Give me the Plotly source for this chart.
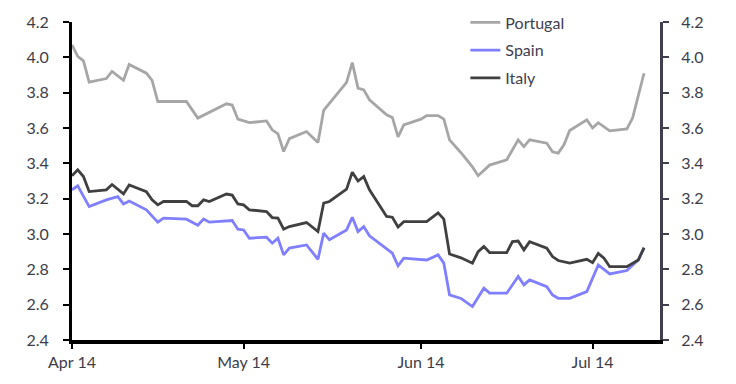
import plotly.graph_objects as go

# Portugal 10y yield (%)
pt_dates = ["2014-04-01","2014-04-02","2014-04-03","2014-04-04","2014-04-07","2014-04-08","2014-04-10","2014-04-11",
            "2014-04-14","2014-04-15","2014-04-16","2014-04-21","2014-04-23","2014-04-28","2014-04-29","2014-04-30",
            "2014-05-02","2014-05-05","2014-05-06","2014-05-07","2014-05-08","2014-05-09","2014-05-12","2014-05-14",
            "2014-05-15","2014-05-16","2014-05-19","2014-05-20","2014-05-21","2014-05-22","2014-05-23","2014-05-26",
            "2014-05-27","2014-05-28","2014-05-29","2014-06-01","2014-06-02","2014-06-04","2014-06-05","2014-06-06",
            "2014-06-08","2014-06-10","2014-06-11","2014-06-13","2014-06-16","2014-06-18","2014-06-19","2014-06-20",
            "2014-06-23","2014-06-24","2014-06-25","2014-06-26","2014-06-27","2014-06-30","2014-07-01","2014-07-02",
            "2014-07-04","2014-07-07","2014-07-08","2014-07-10"]
pt_values = [4.07,4.005,3.98,3.86,3.88,3.92,3.87,3.96,
             3.91,3.87,3.75,3.75,3.656,3.737,3.73,3.65,
             3.63,3.64,3.59,3.567,3.467,3.54,3.58,3.518,
             3.70,3.74,3.858,3.97,3.826,3.816,3.76,3.675,
             3.66,3.55,3.618,3.65,3.67,3.67,3.65,3.533,
             3.46,3.38,3.33,3.39,3.42,3.533,3.495,3.533,
             3.514,3.465,3.458,3.505,3.586,3.646,3.60,3.63,
             3.584,3.595,3.656,3.91]

# Spain 10y yield (%)
es_dates = ["2014-04-01","2014-04-02","2014-04-04","2014-04-07","2014-04-09","2014-04-10","2014-04-11","2014-04-14",
            "2014-04-16","2014-04-17","2014-04-21","2014-04-23","2014-04-24","2014-04-25","2014-04-29","2014-04-30",
            "2014-05-01","2014-05-02","2014-05-05","2014-05-06","2014-05-07","2014-05-08","2014-05-09","2014-05-12",
            "2014-05-14","2014-05-15","2014-05-16","2014-05-19","2014-05-20","2014-05-21","2014-05-22","2014-05-23",
            "2014-05-27","2014-05-28","2014-05-29","2014-06-02","2014-06-04","2014-06-05","2014-06-06","2014-06-08",
            "2014-06-10","2014-06-11","2014-06-12","2014-06-13","2014-06-16","2014-06-18","2014-06-19","2014-06-20",
            "2014-06-23","2014-06-24","2014-06-25","2014-06-27","2014-06-30","2014-07-02","2014-07-04","2014-07-07",
            "2014-07-09","2014-07-10"]
es_values = [3.25,3.273,3.155,3.193,3.212,3.17,3.187,3.137,
             3.067,3.09,3.084,3.05,3.085,3.067,3.076,3.027,
             3.023,2.976,2.982,2.948,2.976,2.882,2.92,2.938,
             2.857,3.005,2.967,3.023,3.095,3.014,3.042,2.99,
             2.891,2.82,2.863,2.853,2.882,2.835,2.655,2.635,
             2.589,2.645,2.693,2.665,2.665,2.759,2.712,2.74,
             2.702,2.655,2.636,2.636,2.674,2.825,2.774,2.793,
             2.853,2.92]

# Italy 10y yield (%)
it_dates = ["2014-04-01","2014-04-02","2014-04-03","2014-04-04","2014-04-07","2014-04-08","2014-04-10","2014-04-11",
            "2014-04-14","2014-04-15","2014-04-16","2014-04-17","2014-04-21","2014-04-22","2014-04-23","2014-04-24",
            "2014-04-25","2014-04-28","2014-04-29","2014-04-30","2014-05-01","2014-05-02","2014-05-05","2014-05-06",
            "2014-05-07","2014-05-08","2014-05-09","2014-05-12","2014-05-14","2014-05-15","2014-05-16","2014-05-19",
            "2014-05-20","2014-05-21","2014-05-22","2014-05-23","2014-05-26","2014-05-27","2014-05-28","2014-05-29",
            "2014-06-02","2014-06-04","2014-06-05","2014-06-06","2014-06-08","2014-06-10","2014-06-11","2014-06-12",
            "2014-06-13","2014-06-16","2014-06-17","2014-06-18","2014-06-19","2014-06-20","2014-06-23","2014-06-24",
            "2014-06-25","2014-06-27","2014-06-30","2014-07-01","2014-07-02","2014-07-03","2014-07-04","2014-07-07",
            "2014-07-09","2014-07-10"]
it_values = [3.33,3.363,3.325,3.24,3.25,3.28,3.227,3.278,
             3.24,3.193,3.165,3.184,3.184,3.16,3.16,3.193,
             3.184,3.226,3.22,3.17,3.165,3.137,3.127,3.093,
             3.09,3.027,3.042,3.065,3.014,3.175,3.184,3.254,
             3.35,3.30,3.325,3.25,3.099,3.095,3.04,3.07,
             3.07,3.12,3.084,2.887,2.865,2.835,2.90,2.93,
             2.895,2.895,2.957,2.96,2.91,2.957,2.92,2.872,
             2.85,2.835,2.857,2.838,2.89,2.863,2.815,2.815,
             2.853,2.923]

y_ticks = [2.4, 2.6, 2.8, 3.0, 3.2, 3.4, 3.6, 3.8, 4.0, 4.2]
x_ticks = ["2014-04-01", "2014-05-01", "2014-06-01", "2014-07-01"]
x_ticklabels = ["Apr 14", "May 14", "Jun 14", "Jul 14"]

font_family = "Lato, 'Open Sans', sans-serif"
tick_color = "#3d3d4a"

fig = go.Figure()
fig.add_trace(go.Scatter(x=pt_dates, y=pt_values, mode="lines", name="Portugal",
                         line=dict(color="#a6a6a6", width=2.8), legendgroup="a"))
fig.add_trace(go.Scatter(x=es_dates, y=es_values, mode="lines", name="Spain",
                         line=dict(color="#7f7fff", width=2.8), legendgroup="b"))
# Italy plotted against the (identical) right-hand scale so that axis is drawn
fig.add_trace(go.Scatter(x=it_dates, y=it_values, mode="lines", name="Italy",
                         line=dict(color="#404040", width=2.8), legendgroup="c",
                         yaxis="y2"))

# page body has an 8px default margin, so the figure is 8px smaller each way
fig.update_layout(
    width=728, height=376,
    margin=dict(l=64, r=76, t=14, b=44, autoexpand=False),
    paper_bgcolor="white", plot_bgcolor="white",
    font=dict(family=font_family, size=16, color=tick_color),
    showlegend=True,
    legend=dict(x=0.669, y=1.052, xanchor="left", yanchor="top",
                bgcolor="rgba(0,0,0,0)", tracegroupgap=4,
                font=dict(size=16, color="#404050")),
    xaxis=dict(type="date", range=["2014-04-01", "2014-07-12 19:00"],
               tickvals=x_ticks, ticktext=x_ticklabels,
               showgrid=False, zeroline=False,
               showline=True, linecolor="black", linewidth=4,
               ticks="outside", ticklen=5, tickwidth=2, tickcolor="black",
               tickfont=dict(size=16, color=tick_color)),
    yaxis=dict(range=[2.4, 4.2], tickvals=y_ticks, tickformat=".1f",
               showgrid=False, zeroline=False,
               showline=True, linecolor="black", linewidth=3,
               ticks="outside", ticklen=6, tickwidth=2, tickcolor="black",
               ticklabelstandoff=11,
               tickfont=dict(size=16, color=tick_color)),
    yaxis2=dict(range=[2.4, 4.2], tickvals=y_ticks, tickformat=".1f",
                overlaying="y", side="right", anchor="x",
                showgrid=False, zeroline=False,
                showline=True, linecolor="#3f3f4f", linewidth=3,
                ticks="outside", ticklen=6, tickwidth=2, tickcolor="#3f3f4f",
                ticklabelstandoff=9,
                tickfont=dict(size=16, color=tick_color)),
)

fig.write_html("out.html")
